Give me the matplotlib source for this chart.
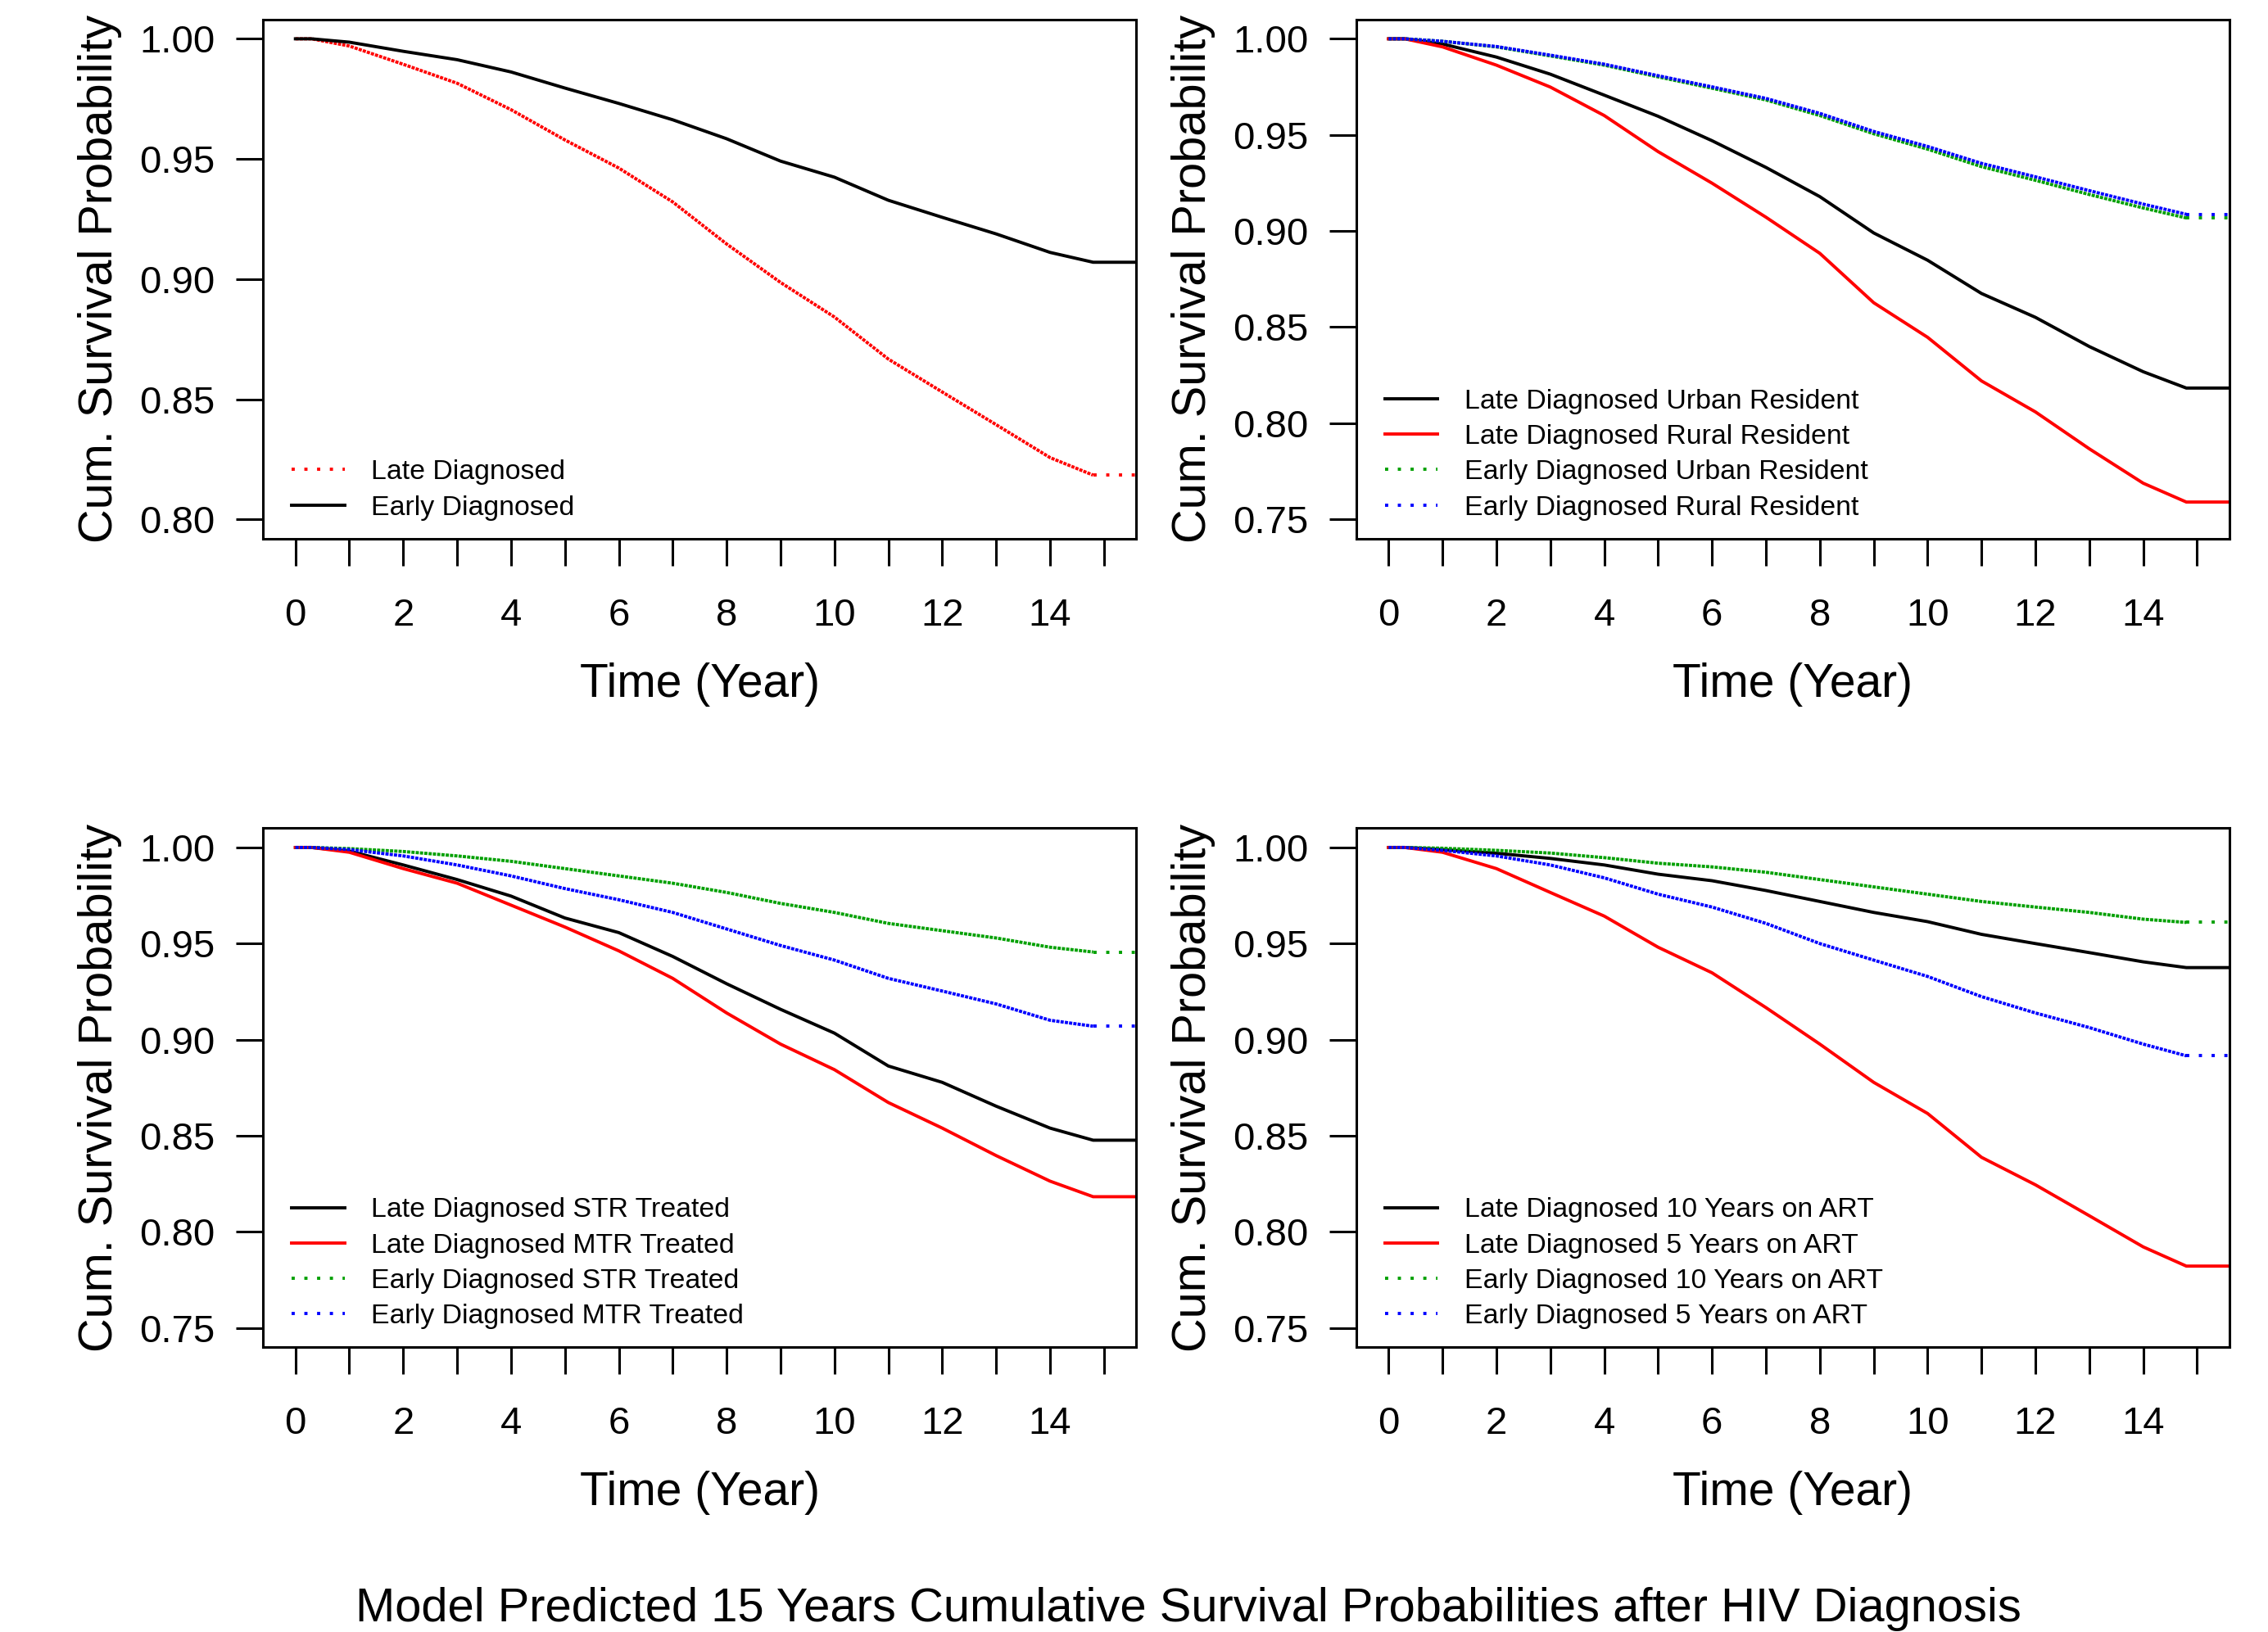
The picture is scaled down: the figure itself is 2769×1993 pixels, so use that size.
import matplotlib
matplotlib.use("Agg")
import matplotlib.pyplot as plt
from matplotlib.lines import Line2D

plt.rcParams['font.family'] = ['Liberation Sans', 'DejaVu Sans']

# time points (years); last point = flat tail to the box edge
times = [0, 0.3, 1, 2, 3, 4, 5, 6, 7, 8, 9, 10, 11, 12, 13, 14, 14.8, 15.6]

# panel 1: late vs early diagnosed
p1_late = [1, 1, 0.9970, 0.9894, 0.9815, 0.9705, 0.9579, 0.9462, 0.9321, 0.9146,
           0.8986, 0.8842, 0.8667, 0.8530, 0.8394, 0.8257, 0.8184, 0.8184]
p1_early = [1, 1, 0.9986, 0.9948, 0.9913, 0.9862, 0.9795, 0.9731, 0.9663, 0.9584,
            0.9491, 0.9424, 0.9328, 0.9257, 0.9188, 0.9111, 0.9070, 0.9070]

# panel 2: residence
p2_late_urban = [1, 1, 0.9973, 0.9905, 0.9816, 0.9707, 0.9597, 0.9470, 0.9331, 0.9179,
                 0.8990, 0.8848, 0.8675, 0.8551, 0.8399, 0.8268, 0.8183, 0.8183]
p2_late_rural = [1, 1, 0.9958, 0.9863, 0.9749, 0.9601, 0.9413, 0.9249, 0.9072, 0.8884,
                 0.8627, 0.8447, 0.8220, 0.8059, 0.7867, 0.7688, 0.7590, 0.7590]
p2_early_urban = [1, 1, 0.9987, 0.9958, 0.9911, 0.9863, 0.9802, 0.9743, 0.9682, 0.9601,
                  0.9506, 0.9426, 0.9335, 0.9264, 0.9190, 0.9120, 0.9068, 0.9068]
p2_early_rural = [1, 1, 0.9987, 0.9960, 0.9915, 0.9868, 0.9808, 0.9750, 0.9690, 0.9612,
                  0.9518, 0.9440, 0.9352, 0.9282, 0.9210, 0.9140, 0.9087, 0.9087]

# panel 3: treatment regimen
p3_late_str = [1, 1, 0.9981, 0.9909, 0.9833, 0.9747, 0.9633, 0.9557, 0.9433, 0.9291,
               0.9158, 0.9034, 0.8863, 0.8778, 0.8654, 0.8540, 0.8477, 0.8477]
p3_late_mtr = [1, 1, 0.9975, 0.9890, 0.9814, 0.9700, 0.9586, 0.9462, 0.9319, 0.9139,
               0.8977, 0.8844, 0.8673, 0.8540, 0.8397, 0.8264, 0.8183, 0.8183]
p3_early_str = [1, 1, 0.9994, 0.9979, 0.9956, 0.9928, 0.9890, 0.9852, 0.9814, 0.9766,
                0.9709, 0.9662, 0.9605, 0.9567, 0.9529, 0.9481, 0.9456, 0.9456]
p3_early_mtr = [1, 1, 0.9989, 0.9956, 0.9909, 0.9852, 0.9786, 0.9728, 0.9662, 0.9576,
                0.9490, 0.9414, 0.9319, 0.9253, 0.9186, 0.9101, 0.9070, 0.9070]

# panel 4: years on ART
p4_late_10 = [1, 1, 0.9989, 0.9970, 0.9943, 0.9909, 0.9861, 0.9827, 0.9776, 0.9719,
              0.9662, 0.9614, 0.9548, 0.9500, 0.9453, 0.9405, 0.9375, 0.9375]
p4_late_5 = [1, 1, 0.9975, 0.9890, 0.9766, 0.9643, 0.9481, 0.9348, 0.9167, 0.8977,
             0.8778, 0.8616, 0.8388, 0.8245, 0.8084, 0.7922, 0.7822, 0.7822]
p4_early_10 = [1, 1, 0.9996, 0.9985, 0.9971, 0.9947, 0.9918, 0.9899, 0.9871, 0.9833,
               0.9795, 0.9757, 0.9719, 0.9690, 0.9662, 0.9627, 0.9610, 0.9610]
p4_early_5 = [1, 1, 0.9985, 0.9956, 0.9909, 0.9842, 0.9757, 0.9690, 0.9605, 0.9500,
              0.9414, 0.9329, 0.9224, 0.9139, 0.9063, 0.8977, 0.8916, 0.8916]

labels2 = ["Late Diagnosed Urban Resident", "Late Diagnosed Rural Resident",
           "Early Diagnosed Urban Resident", "Early Diagnosed Rural Resident"]
labels3 = ["Late Diagnosed STR Treated", "Late Diagnosed MTR Treated",
           "Early Diagnosed STR Treated", "Early Diagnosed MTR Treated"]
labels4 = ["Late Diagnosed 10 Years on ART", "Late Diagnosed 5 Years on ART",
           "Early Diagnosed 10 Years on ART", "Early Diagnosed 5 Years on ART"]

RED, BLACK, GREEN, BLUE = "#ff0000", "#000000", "#00a000", "#0000ff"
LW = 1.4
DENSE = (0, (1, 0.35))
SPARSE = (0, (1, 3))

fig = plt.figure(figsize=(13.845, 9.965), dpi=200)
boxes = [[0.116, 0.670, 0.385, 0.318], [0.598, 0.670, 0.385, 0.318],
         [0.116, 0.1745, 0.385, 0.318], [0.598, 0.1745, 0.385, 0.318]]


def draw_panel(ax, series, ymin, yticks):
    handles, labs = [], []
    for vals, color, dotted, lab in series:
        if dotted:
            ax.plot(times[:-1], vals[:-1], color=color, lw=LW, ls=DENSE)
            ax.plot(times[-2:], vals[-2:], color=color, lw=LW, ls=SPARSE)
            handles.append(Line2D([], [], color=color, lw=LW, ls=SPARSE))
        else:
            ax.plot(times, vals, color=color, lw=LW)
            handles.append(Line2D([], [], color=color, lw=LW))
        labs.append(lab)
    rng = 1 - ymin
    ax.set_xlim(-0.6, 15.6)
    ax.set_ylim(ymin - 0.04 * rng, 1 + 0.04 * rng)
    ax.set_xticks(range(16))
    ax.set_xticklabels([str(i) if i % 2 == 0 else "" for i in range(16)])
    ax.set_yticks(yticks)
    ax.set_yticklabels(["%.2f" % v for v in yticks])
    ax.tick_params(axis='both', direction='out', length=12, width=1.1, labelsize=17)
    ax.tick_params(axis='y', pad=9)
    ax.tick_params(axis='x', pad=14)
    for s in ax.spines.values():
        s.set_linewidth(1.1)
    ax.text(0.5, -0.281, "Time (Year)", transform=ax.transAxes,
            ha='center', va='center', fontsize=20.5)
    ax.text(-0.187, 0.5, "Cum. Survival Probability", transform=ax.transAxes,
            ha='center', va='center', rotation=90, fontsize=20.8)
    ax.legend(handles, labs, loc='lower left', bbox_to_anchor=(0.033, 0.035),
              frameon=False, fontsize=12.2, handlelength=1.9, handletextpad=0.95,
              labelspacing=0.36, borderpad=0, borderaxespad=0)


yt1 = [0.80, 0.85, 0.90, 0.95, 1.00]
yt2 = [0.75, 0.80, 0.85, 0.90, 0.95, 1.00]

ax1 = fig.add_axes(boxes[0])
draw_panel(ax1, [(p1_late, RED, True, "Late Diagnosed"),
                 (p1_early, BLACK, False, "Early Diagnosed")], 0.80, yt1)

ax2 = fig.add_axes(boxes[1])
draw_panel(ax2, [(p2_late_urban, BLACK, False, labels2[0]),
                 (p2_late_rural, RED, False, labels2[1]),
                 (p2_early_urban, GREEN, True, labels2[2]),
                 (p2_early_rural, BLUE, True, labels2[3])], 0.75, yt2)

ax3 = fig.add_axes(boxes[2])
draw_panel(ax3, [(p3_late_str, BLACK, False, labels3[0]),
                 (p3_late_mtr, RED, False, labels3[1]),
                 (p3_early_str, GREEN, True, labels3[2]),
                 (p3_early_mtr, BLUE, True, labels3[3])], 0.75, yt2)

ax4 = fig.add_axes(boxes[3])
draw_panel(ax4, [(p4_late_10, BLACK, False, labels4[0]),
                 (p4_late_5, RED, False, labels4[1]),
                 (p4_early_10, GREEN, True, labels4[2]),
                 (p4_early_5, BLUE, True, labels4[3])], 0.75, yt2)

fig.text(0.524, 0.0143, "Model Predicted 15 Years Cumulative Survival Probabilities after HIV Diagnosis",
         ha='center', va='center', fontsize=20.85)

fig.savefig("out.png", dpi=200)
